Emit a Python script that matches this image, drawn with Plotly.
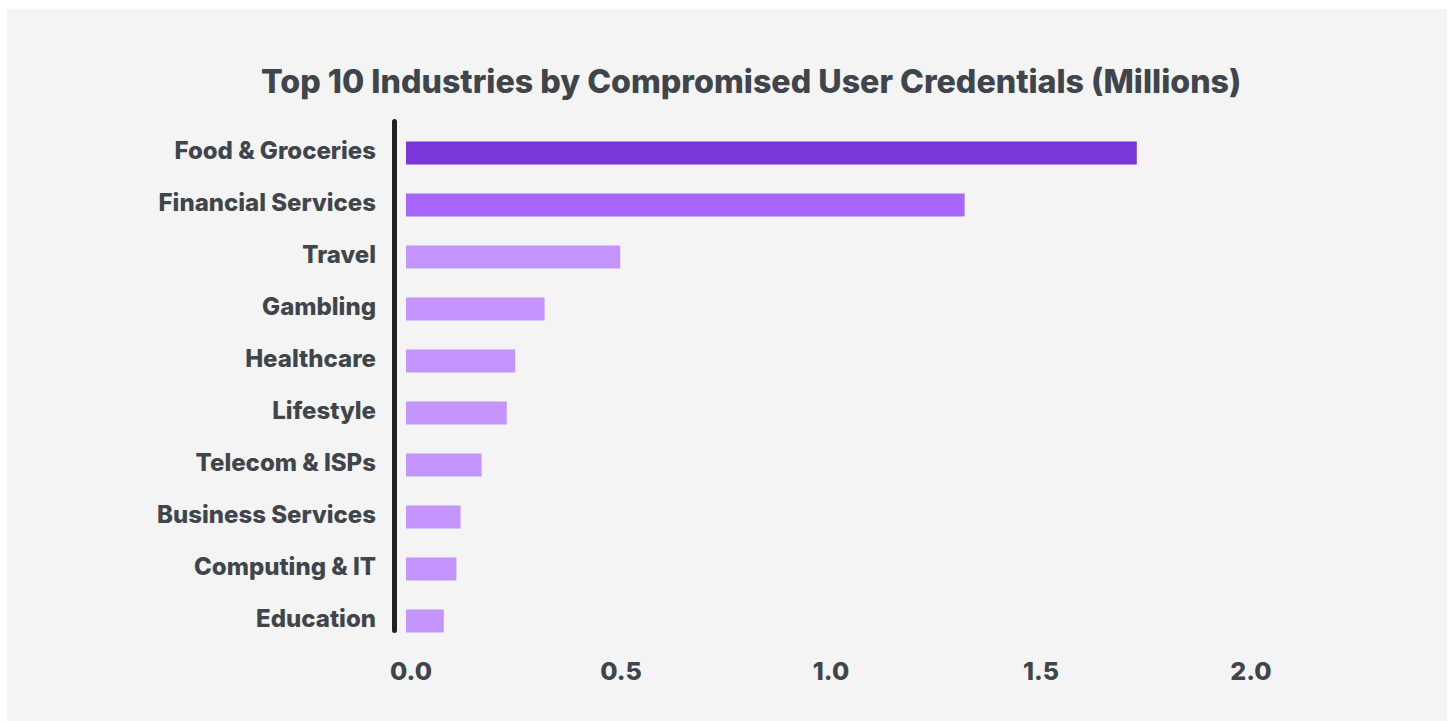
import plotly.graph_objects as go

# Industries, top to bottom, and compromised credentials (millions)
industries = [
    "Food & Groceries",
    "Financial Services",
    "Travel",
    "Gambling",
    "Healthcare",
    "Lifestyle",
    "Telecom & ISPs",
    "Business Services",
    "Computing & IT",
    "Education",
]
credentials_m = [1.74, 1.33, 0.51, 0.33, 0.26, 0.24, 0.18, 0.13, 0.12, 0.09]
bar_colors = ["#7837d6", "#a866fe"] + ["#c495ff"] * 8
x_ticks = [0.0, 0.5, 1.0, 1.5, 2.0]
x_tick_text = ["0.0", "0.5", "1.0", "1.5", "2.0"]

title_text = "Top 10 Industries by Compromised User Credentials (Millions)"

W, H = 1450, 721
L, R, T, B = 406, 120, 127, 74
PW, PH = W - L - R, H - T - B

TEXT = "#40454c"
PANEL = "#f4f4f4"
FONT = "Inter"


def px_x(p):
    return (p - L) / PW


def px_y(p):
    return (H - B - p) / PH


fig = go.Figure(
    go.Bar(
        x=credentials_m,
        y=industries,
        orientation="h",
        width=0.44,
        marker=dict(color=bar_colors, line=dict(width=0)),
        hovertemplate="%{y}: %{x:.2f}M<extra></extra>",
    )
)

shapes = [
    # light panel behind the chart
    dict(type="rect", xref="paper", yref="paper",
         x0=px_x(7), x1=px_x(1447), y0=px_y(9), y1=px_y(721),
         fillcolor=PANEL, line=dict(width=0), layer="below"),
    # vertical baseline with rounded ends
    dict(type="line", xref="paper", yref="paper",
         x0=px_x(394.5), x1=px_x(394.5), y0=px_y(121.5), y1=px_y(630.5),
         line=dict(color="#212121", width=5), layer="above"),
]
for cy in (121.5, 630.5):
    shapes.append(dict(type="circle", xref="paper", yref="paper",
                       x0=px_x(392), x1=px_x(397), y0=px_y(cy - 2.5), y1=px_y(cy + 2.5),
                       fillcolor="#212121", line=dict(width=0), layer="above"))

fig.update_layout(
    width=W,
    height=H,
    margin=dict(l=L, r=R, t=T, b=B, pad=0),
    paper_bgcolor="white",
    plot_bgcolor="rgba(0,0,0,0)",
    showlegend=False,
    shapes=shapes,
    font=dict(family=FONT, color=TEXT, weight=800),
    annotations=[
        dict(text=title_text, xref="paper", yref="paper",
             x=px_x(751), y=px_y(81), xanchor="center", yanchor="middle",
             showarrow=False,
             font=dict(family=FONT, size=32.2, color=TEXT, weight=800)),
    ],
    xaxis=dict(
        range=[0, PW / 420],
        tickvals=x_ticks,
        ticktext=x_tick_text,
        showgrid=False,
        zeroline=False,
        showline=False,
        ticks="",
        ticklabelshift=5,
        ticklabelstandoff=7,
        tickfont=dict(family=FONT, size=25, color=TEXT, weight=800),
    ),
    yaxis=dict(
        type="category",
        categoryorder="array",
        categoryarray=industries,
        range=[9.5, -0.5],
        showgrid=False,
        zeroline=False,
        showline=False,
        ticks="",
        ticklabelstandoff=29,
        ticklabelshift=2,
        tickfont=dict(family=FONT, size=24, color=TEXT, weight=800),
    ),
)

fig.write_html("out.html")
